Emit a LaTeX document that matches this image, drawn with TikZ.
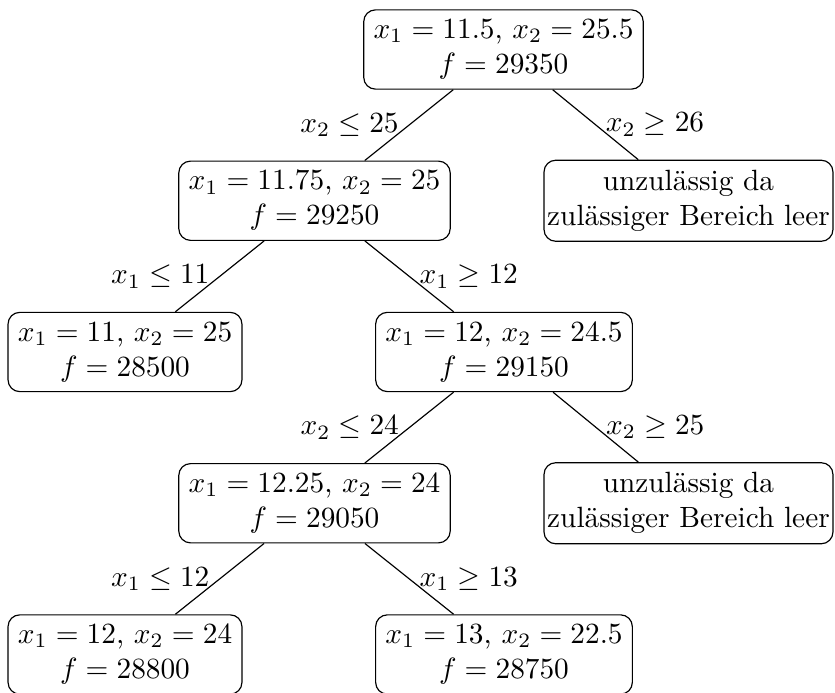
\documentclass[tikz,border=0pt]{standalone}
\usepackage{fontspec}
\tikzset{
  bnode/.style={draw, rounded corners=4pt, align=center, inner xsep=3.33pt, inner ysep=3.33pt},
  wnode/.style={bnode, inner xsep=1.1pt},
  conn/.style={draw}
}
\begin{document}
\begin{tikzpicture}[x=0.3413pt,y=-0.3413pt]
\useasboundingbox (0,0) rectangle (835,693);
\node[bnode] (r) at (503.5,49.5) {$x_1 = 11.5$, $x_2 = 25.5$\\ $f = 29350$};
\node[bnode] (a) at (314.5,200.75) {$x_1 = 11.75$, $x_2 = 25$\\ $f = 29250$};
\node[wnode] (b) at (688.5,200.75) {unzulässig da\\ zulässiger Bereich leer};
\node[bnode] (c) at (125,352) {$x_1 = 11$, $x_2 = 25$\\ $f = 28500$};
\node[bnode] (d) at (504,352) {$x_1 = 12$, $x_2 = 24.5$\\ $f = 29150$};
\node[bnode] (e) at (314.5,503.25) {$x_1 = 12.25$, $x_2 = 24$\\ $f = 29050$};
\node[wnode] (g) at (688.5,503.25) {unzulässig da\\ zulässiger Bereich leer};
\node[bnode] (h) at (125,654.5) {$x_1 = 12$, $x_2 = 24$\\ $f = 28800$};
\node[bnode] (k) at (504,654.5) {$x_1 = 13$, $x_2 = 22.5$\\ $f = 28750$};
\path[conn] (r) -- node[left] {$x_2 \leq 25$} (a);
\path[conn] (r) -- node[right] {$x_2 \geq 26$} (b);
\path[conn] (a) -- node[left] {$x_1 \leq 11$} (c);
\path[conn] (a) -- node[right] {$x_1 \geq 12$} (d);
\path[conn] (d) -- node[left] {$x_2 \leq 24$} (e);
\path[conn] (d) -- node[right] {$x_2 \geq 25$} (g);
\path[conn] (e) -- node[left] {$x_1 \leq 12$} (h);
\path[conn] (e) -- node[right] {$x_1 \geq 13$} (k);
\end{tikzpicture}
\end{document}
